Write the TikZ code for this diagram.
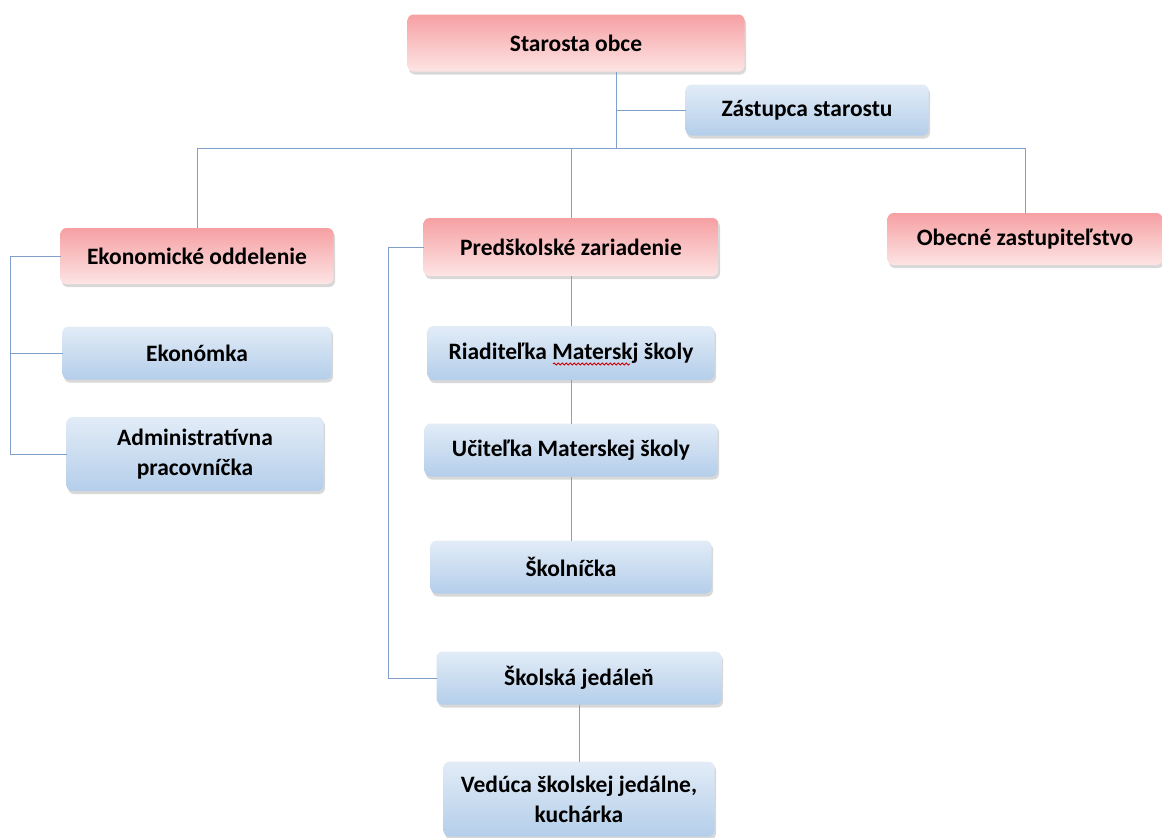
\documentclass[tikz,border=0pt]{standalone}
\usepackage{fontspec}
\setmainfont{Carlito}
\usetikzlibrary{shadows,decorations.pathmorphing,calc}
\definecolor{redtop}{HTML}{F6A0A3}
\definecolor{redbot}{HTML}{FDE4E4}
\definecolor{bluetop}{HTML}{E2ECF7}
\definecolor{bluebot}{HTML}{B4CEEA}
\definecolor{linkcol}{HTML}{809FC9}

\begin{document}
\begin{tikzpicture}[x=1pt, y=-1pt,
		box/.style={rounded corners=6pt, inner sep=0pt, outer sep=0pt, align=center,
			font=\fontsize{23.5}{30}\selectfont\bfseries,
			drop shadow={shadow xshift=1.5pt, shadow yshift=-3pt, opacity=.22, fill=black!70}},
		redbox/.style={box, top color=redtop, bottom color=redbot},
		bluebox/.style={box, top color=bluetop, bottom color=bluebot},
		link/.style={draw=linkcol, line width=1pt}]
			\useasboundingbox (0,0) rectangle (1162,838);
			% top
			\node [redbox, minimum width=337pt, minimum height=57pt] (staro) at (576,43) {Starosta obce};
			\node [bluebox, minimum width=243pt, minimum height=51pt] (zast) at (807,110) {Zástupca starostu};
			% second row
			\node [redbox, minimum width=273pt, minimum height=56pt] (ekon) at (197,256) {Ekonomické oddelenie};
			\node [redbox, minimum width=295pt, minimum height=58pt] (pred) at (571,247) {Predškolské zariadenie};
			\node [redbox, minimum width=275pt, minimum height=52pt] (obec) at (1025,239) {Obecné zastupiteľstvo};
			% left column
			\node [bluebox, minimum width=269pt, minimum height=53pt] (ekonomka) at (197,353) {Ekonómka};
			\node [bluebox, minimum width=257pt, minimum height=74pt] (admin) at (195,454) {Administratívna\\pracovníčka};
			% middle column
			\node [bluebox, minimum width=287pt, minimum height=54pt] (riad) at (571,353) {Riaditeľka Materskj školy};
			\node [bluebox, minimum width=293pt, minimum height=53pt] (ucit) at (571,450) {Učiteľka Materskej školy};
			\node [bluebox, minimum width=281pt, minimum height=53pt] (skoln) at (571,567) {Školníčka};
			\node [bluebox, minimum width=285pt, minimum height=53pt] (jedal) at (579,678) {Školská jedáleň};
			\node [bluebox, minimum width=271pt, minimum height=75pt] (vedu) at (579,799) {Vedúca školskej jedálne,\\kuchárka};
			% junctions
			\coordinate (j1) at (616,148);
			\coordinate (eb) at (10,252);
			\coordinate (pb) at (388,248);
			% connectors
			\draw [link] (staro.south -| j1) -- (j1);
			\draw [link] (zast.west) -- (zast.west -| j1);
			\draw [link] (ekon.north |- j1) -- (obec.north |- j1);
			\draw [link] (ekon.north) -- (ekon.north |- j1);
			\draw [link] (pred.north) -- (pred.north |- j1);
			\draw [link] (obec.north) -- (obec.north |- j1);
			\draw [link] (ekon.west) -- (ekon.west -| eb) |- (admin.west);
			\draw [link] (ekonomka.west) -- (ekonomka.west -| eb);
			\draw [link] (pred.west) -- (pred.west -| pb) |- (jedal.west);
			\draw [link] (pred.south) -- (riad.north);
			\draw [link] (riad.south) -- (ucit.north);
			\draw [link] (ucit.south) -- (skoln.north);
			\draw [link] (jedal.south) -- (vedu.north);
			% spell-check mark
			\draw [red!80!black, line width=0.9pt, decorate, decoration={snake, amplitude=1pt, segment length=4pt}]
				($(riad.center)+(-18,11)$) -- ($(riad.center)+(59,11)$);
		\end{tikzpicture}
\end{document}
